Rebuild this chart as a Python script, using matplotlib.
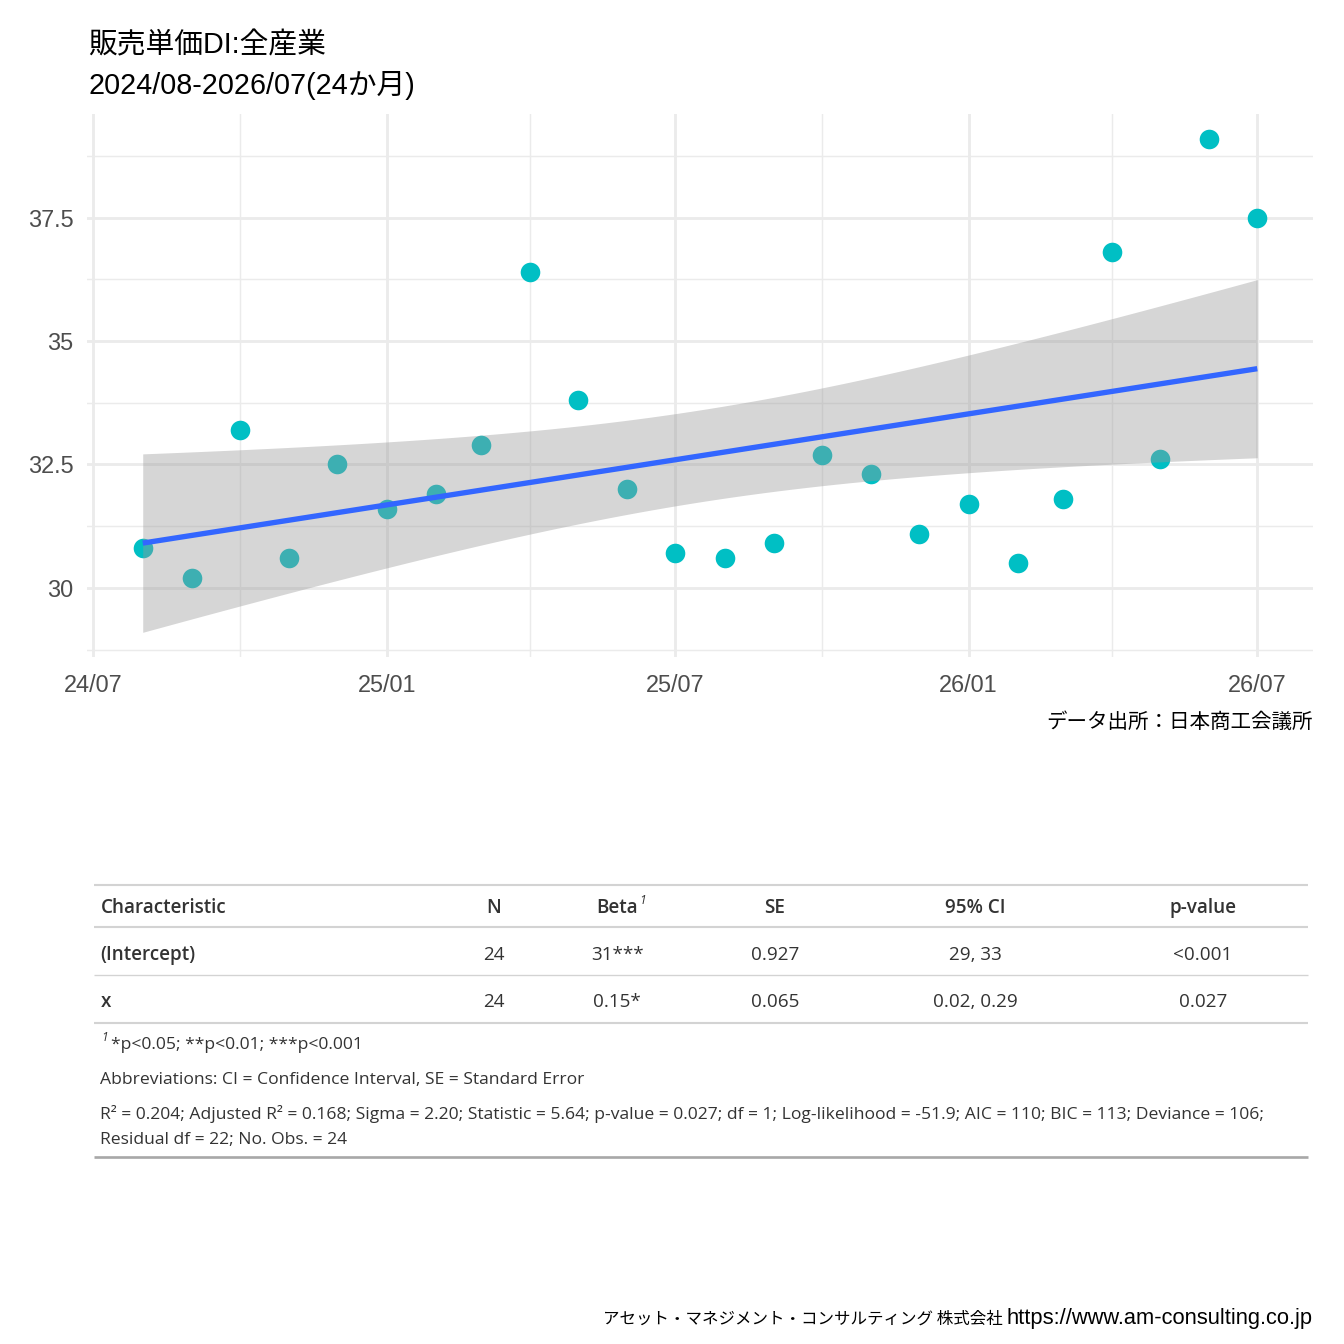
import numpy as np
import pandas as pd
import matplotlib
matplotlib.use("Agg")
import matplotlib.pyplot as plt
import matplotlib.dates as mdates
from matplotlib.lines import Line2D
from matplotlib.text import Annotation
from matplotlib import font_manager as fm

# ---------------- data ----------------
months = ["2024-08", "2024-09", "2024-10", "2024-11", "2024-12", "2025-01",
          "2025-02", "2025-03", "2025-04", "2025-05", "2025-06", "2025-07",
          "2025-08", "2025-09", "2025-10", "2025-11", "2025-12", "2026-01",
          "2026-02", "2026-03", "2026-04", "2026-05", "2026-06", "2026-07"]
values = [30.8, 30.2, 33.2, 30.6, 32.5, 31.6, 31.9, 32.9, 36.4, 33.8, 32.0, 30.7,
          30.6, 30.9, 32.7, 32.3, 31.1, 31.7, 30.5, 31.8, 36.8, 32.6, 39.1, 37.5]

x_major = ["2024-07-01", "2025-01-01", "2025-07-01", "2026-01-01", "2026-07-01"]
x_major_labels = ["24/07", "25/01", "25/07", "26/01", "26/07"]
x_minor = ["2024-10-01", "2025-04-01", "2025-10-01", "2026-04-01"]
y_major = [30, 32.5, 35, 37.5]
y_major_labels = ["30", "32.5", "35", "37.5"]
y_minor = [28.75, 31.25, 33.75, 36.25, 38.75]

title_lines = ["販売単価DI:全産業", "2024/08-2026/07(24か月)"]
caption = "データ出所：日本商工会議所"
footer_jp = "アセット・マネジメント・コンサルティング 株式会社"
footer_url = "https://www.am-consulting.co.jp"

tbl_header = ["Characteristic", "N", "Beta", "SE", "95% CI", "p-value"]
tbl_terms = ["(Intercept)", "x"]
tbl_n = ["24", "24"]
tbl_beta = ["31***", "0.15*"]
tbl_se = ["0.927", "0.065"]
tbl_ci = ["29, 33", "0.02, 0.29"]
tbl_p = ["<0.001", "0.027"]
footnote_mark = "1"
footnote_sig = "*p<0.05; **p<0.01; ***p<0.001"
footnote_abbr = "Abbreviations: CI = Confidence Interval, SE = Standard Error"
footnote_stats = ["R² = 0.204; Adjusted R² = 0.168; Sigma = 2.20; Statistic = 5.64; "
                  "p-value = 0.027; df = 1; Log-likelihood = -51.9; AIC = 110; BIC = 113; Deviance = 106;",
                  "Residual df = 22; No. Obs. = 24"]
t_crit = 2.0739  # qt(0.975, df=22)

# ---------------- fonts ----------------
LAT = "Liberation Sans"
CJK = "Noto Sans CJK JP"
_fonts = fm.fontManager.ttflist


def _weights(fam):
    ws = [f.weight for f in _fonts if f.name == fam]
    return [w if isinstance(w, int) else 400 for w in ws]


TBL = "DejaVu Sans"
for fam in ["Noto Sans", "Open Sans", "Lato", "Roboto"]:
    ws = _weights(fam)
    if any(w >= 600 for w in ws) and any(w <= 450 for w in ws):
        TBL = fam
        break
_tw = _weights(TBL)
HDR_W = 600 if 600 in _tw else "bold"
HDR_FS = 7.1 if HDR_W == 600 else 6.8

# ---------------- figure ----------------
W = H = 1344
fig = plt.figure(figsize=(7, 7), dpi=192)
fig.patch.set_facecolor("white")


def fx(p):
    return p / W


def fy(p):
    return 1 - p / H


ax = fig.add_axes([fx(87), fy(657), fx(1313) - fx(87), fy(114) - fy(657)])
xn = mdates.date2num(pd.to_datetime(months))
y = np.array(values, dtype=float)

ax.scatter(xn, y, s=54, color="#00BFC4", linewidths=0, zorder=2)

slope, inter = np.polyfit(xn, y, 1)
n = len(y)
resid = y - (inter + slope * xn)
sigma = np.sqrt((resid ** 2).sum() / (n - 2))
xs = np.linspace(xn.min(), xn.max(), 80)
se = sigma * np.sqrt(1 / n + (xs - xn.mean()) ** 2 / ((xn - xn.mean()) ** 2).sum())
fit = inter + slope * xs
ax.fill_between(xs, fit - t_crit * se, fit + t_crit * se, color="#999999",
                alpha=0.4, linewidth=0, zorder=3)
ax.plot(xs, fit, color="#3366FF", lw=2.0, zorder=4, solid_capstyle="butt")

ax.margins(x=0.05, y=0.05)
ax.set_xticks(mdates.date2num(pd.to_datetime(x_major)))
ax.set_xticklabels(x_major_labels)
ax.set_xticks(mdates.date2num(pd.to_datetime(x_minor)), minor=True)
ax.set_yticks(y_major)
ax.set_yticklabels(y_major_labels)
ax.set_yticks(y_minor, minor=True)
ax.tick_params(which="both", length=0)
ax.tick_params(axis="x", pad=6.5, labelsize=8.8, labelcolor="#4D4D4D")
ax.tick_params(axis="y", pad=5, labelsize=8.8, labelcolor="#4D4D4D")
for lab in ax.get_xticklabels() + ax.get_yticklabels():
    lab.set_family(LAT)
ax.grid(which="major", color="#EBEBEB", lw=1.07)
ax.grid(which="minor", color="#EBEBEB", lw=0.55)
ax.set_axisbelow(True)
for s in ax.spines.values():
    s.set_visible(False)

# titles
fig.text(fx(88), fy(53), title_lines[0], fontsize=10.8, family=[LAT, CJK],
         va="baseline", ha="left", color="black")
fig.text(fx(88), fy(94), title_lines[1], fontsize=10.8, family=[LAT, CJK],
         va="baseline", ha="left", color="black")
# caption
fig.text(fx(1313), fy(728), caption, fontsize=7.7, family=[CJK, LAT],
         va="baseline", ha="right", color="black")

# footer
fig.text(fx(1313), fy(1324), footer_url, fontsize=8.2, family=[LAT],
         va="baseline", ha="right", color="black")
fig.text(fx(1003), fy(1324), footer_jp, fontsize=6.2, family=[CJK],
         va="baseline", ha="right", color="black")

# ---------------- table ----------------
TL, TR = 94, 1308
tcol = "#333333"


def hline(py, lw, color):
    fig.add_artist(Line2D([fx(TL), fx(TR)], [fy(py), fy(py)], lw=lw, color=color,
                          solid_capstyle="butt"))


hline(884.5, 0.8, "#D3D3D3")
hline(927, 0.8, "#D3D3D3")
hline(975, 0.5, "#D3D3D3")
hline(1022.5, 0.8, "#D3D3D3")
hline(1156.5, 1.0, "#A8A8A8")

col_x = [100.5, 494, 617, 775, 975, 1203]
col_ha = ["left", "center", "center", "center", "center", "center"]
hdr_base = 913
row_base = [960, 1007]
fs_tbl = 7.1
fs_foot = 6.55

hdr_texts = []
for i, h in enumerate(tbl_header):
    t = fig.text(fx(col_x[i]), fy(hdr_base), h, fontsize=HDR_FS, family=TBL,
                 weight=HDR_W, color=tcol, ha=col_ha[i], va="baseline")
    hdr_texts.append(t)
# superscript on Beta
fig.add_artist(Annotation(
    footnote_mark, xy=(1, 1), xycoords=hdr_texts[2], xytext=(0.6, 1.5),
    textcoords="offset points", fontsize=4.5, family=TBL, style="italic",
    color=tcol, ha="left", va="top"))

rows = list(zip(tbl_terms, tbl_n, tbl_beta, tbl_se, tbl_ci, tbl_p))
for r, row in enumerate(rows):
    for i, val in enumerate(row):
        fig.text(fx(col_x[i]), fy(row_base[r]), val,
                 fontsize=HDR_FS if i == 0 else fs_tbl, family=TBL,
                 weight=HDR_W if i == 0 else "normal",
                 color=tcol, ha=col_ha[i], va="baseline")

# footnotes
fig.text(fx(101), fy(1041), footnote_mark, fontsize=4.5, family=TBL, style="italic",
         color=tcol, ha="left", va="baseline")
fig.text(fx(111), fy(1049), footnote_sig, fontsize=fs_foot, family=TBL,
         color=tcol, ha="left", va="baseline")
fig.text(fx(100.5), fy(1084), footnote_abbr, fontsize=fs_foot, family=TBL,
         color=tcol, ha="left", va="baseline")
fig.text(fx(100.5), fy(1119), footnote_stats[0], fontsize=fs_foot, family=TBL,
         color=tcol, ha="left", va="baseline")
fig.text(fx(100.5), fy(1144), footnote_stats[1], fontsize=fs_foot, family=TBL,
         color=tcol, ha="left", va="baseline")

fig.savefig("out.png", dpi=192, facecolor="white")
